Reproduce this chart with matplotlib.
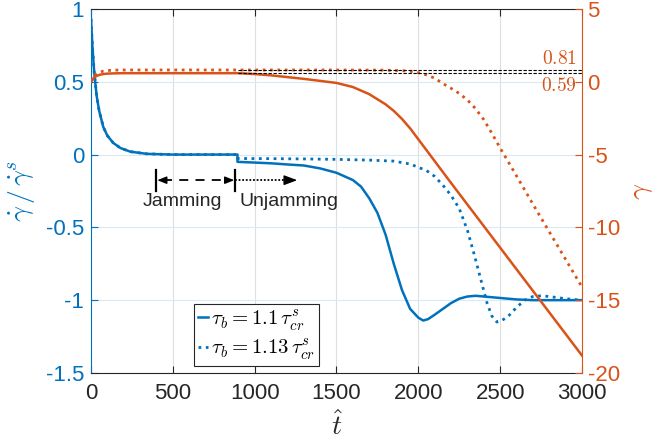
import matplotlib
matplotlib.use("Agg")
import matplotlib.pyplot as plt

plt.rcParams["font.family"] = ["Liberation Sans", "DejaVu Sans"]
plt.rcParams["mathtext.fontset"] = "cm"
plt.rcParams["axes.unicode_minus"] = False

BLUE = (0.0, 0.447, 0.741)
ORANGE = (0.85, 0.325, 0.098)
DARK = (0.15, 0.15, 0.15)

# shear rate (left axis), tau_b = 1.1 tau_cr^s
t_b1 = [0, 5, 10, 20, 35, 50, 75, 100, 136, 180, 240, 340, 500, 700, 895, 895,
        1000, 1100, 1200, 1300, 1400, 1500, 1600, 1650, 1700, 1750, 1800, 1850,
        1900, 1950, 2000, 2030, 2060, 2100, 2150, 2200, 2250, 2300, 2350, 2400,
        2500, 2600, 2700, 3000]
r_b1 = [0.93, 0.82, 0.72, 0.56, 0.40, 0.30, 0.19, 0.13, 0.08, 0.045, 0.02, 0.005,
        0.0, 0.0, 0.0, -0.05, -0.055, -0.06, -0.068, -0.075, -0.095, -0.125, -0.175,
        -0.22, -0.30, -0.40, -0.55, -0.75, -0.93, -1.06, -1.12, -1.14, -1.13, -1.10,
        -1.06, -1.02, -0.99, -0.975, -0.97, -0.975, -0.985, -0.995, -1.0, -1.0]

# shear rate (left axis), tau_b = 1.13 tau_cr^s
t_b2 = [0, 5, 10, 20, 35, 50, 75, 100, 136, 180, 240, 340, 500, 700, 895, 895,
        1100, 1300, 1500, 1700, 1850, 1950, 2050, 2100, 2150, 2200, 2250, 2300,
        2340, 2380, 2420, 2450, 2480, 2510, 2550, 2600, 2650, 2700, 2750, 2800,
        2900, 3000]
r_b2 = [0.93, 0.82, 0.72, 0.56, 0.40, 0.30, 0.19, 0.13, 0.08, 0.045, 0.02, 0.005,
        0.0, 0.0, 0.0, -0.027, -0.028, -0.03, -0.033, -0.038, -0.045, -0.065, -0.11,
        -0.15, -0.21, -0.28, -0.37, -0.52, -0.68, -0.85, -1.02, -1.11, -1.15, -1.14,
        -1.11, -1.05, -1.0, -0.975, -0.97, -0.975, -0.99, -1.0]

# strain gamma (right axis)
t_o1 = [0, 10, 25, 50, 75, 100, 150, 200, 300, 500, 700, 900, 1000, 1100, 1200,
        1300, 1400, 1500, 1600, 1700, 1800, 1850, 1900, 1950, 2000, 2050, 2100,
        2200, 3000]
g_o1 = [0.0, 0.18, 0.35, 0.47, 0.53, 0.56, 0.58, 0.59, 0.59, 0.59, 0.59, 0.59,
        0.53, 0.44, 0.32, 0.20, 0.06, -0.08, -0.36, -0.85, -1.55, -2.0, -2.55, -3.2,
        -3.95, -4.7, -5.45, -6.95, -18.8]

t_o2 = [0, 10, 25, 50, 75, 100, 150, 200, 300, 500, 900, 1200, 1500, 1800, 1900,
        1950, 2000, 2050, 2100, 2150, 2200, 2250, 2300, 2350, 2400, 2450, 2500,
        2550, 2620, 2700, 2800, 2900, 3000]
g_o2 = [0.0, 0.25, 0.48, 0.65, 0.73, 0.77, 0.80, 0.81, 0.81, 0.81, 0.81, 0.81,
        0.81, 0.80, 0.76, 0.72, 0.62, 0.47, 0.25, -0.12, -0.45, -0.80, -1.25, -1.85,
        -2.6, -3.55, -4.55, -5.5, -6.85, -8.4, -10.3, -12.2, -14.1]

ref_levels = [0.81, 0.59]
ref_labels = ["$0.81$", "$0.59$"]
ref_label_y = [1.58, -0.3]
ref_start = 900

left_ticks = [-1.5, -1, -0.5, 0, 0.5, 1]
left_ticklabels = ["-1.5", "-1", "-0.5", "0", "0.5", "1"]
right_ticks = [-20, -15, -10, -5, 0, 5]
x_ticks = [0, 500, 1000, 1500, 2000, 2500, 3000]

legend_labels = [r"$\tau_b = 1.1\,\tau_{cr}^s$", r"$\tau_b = 1.13\,\tau_{cr}^s$"]

# jamming / unjamming markers
t_jam_start = 400
t_jam_end = 880
t_unjam_end = 1260

fig = plt.figure(figsize=(6.57, 4.44), dpi=100)
ax = fig.add_axes([0.1385, 0.16, 0.7473, 0.8198])
ax2 = ax.twinx()

l1, = ax.plot(t_b1, r_b1, "-", color=BLUE, lw=1.8)
l2, = ax.plot(t_b2, r_b2, ":", color=BLUE, lw=2.0)
ax2.plot(t_o1, g_o1, "-", color=ORANGE, lw=1.8)
ax2.plot(t_o2, g_o2, ":", color=ORANGE, lw=2.0)

for lev in ref_levels:
    ax2.plot([ref_start, 3000], [lev, lev], "--", color="k", lw=0.8, dashes=(3, 1.5))
for lab, ly in zip(ref_labels, ref_label_y):
    ax2.text(2970, ly, lab, color=ORANGE, fontsize=14, ha="right", va="center")

ax.set_xlim(0, 3000)
ax.set_ylim(-1.5, 1)
ax2.set_ylim(-20, 5)

ax.set_xticks(x_ticks)
ax.set_xticklabels([str(v) for v in x_ticks])
ax.set_yticks(left_ticks)
ax.set_yticklabels(left_ticklabels)
ax2.set_yticks(right_ticks)
ax2.set_yticklabels([str(v) for v in right_ticks])

ax.tick_params(axis="x", direction="in", top=True, length=5, width=0.8,
               color=DARK, labelcolor=DARK, labelsize=16, pad=7)
ax.tick_params(axis="y", direction="in", length=5, width=0.8, color=BLUE,
               labelcolor=BLUE, labelsize=16, pad=5, right=False)
ax2.tick_params(axis="y", direction="in", length=5, width=0.8, color=ORANGE,
                labelcolor=ORANGE, labelsize=16, pad=4)

ax.grid(True, axis="x", color=(0.87, 0.87, 0.87), lw=0.8)
ax.grid(True, axis="y", color=(0.85, 0.917, 0.961), lw=0.8)
ax.set_axisbelow(True)

for s in ["top", "bottom"]:
    ax.spines[s].set_color(DARK)
    ax.spines[s].set_linewidth(0.8)
ax.spines["left"].set_color(BLUE)
ax.spines["left"].set_linewidth(0.8)
ax.spines["right"].set_visible(False)
for s in ["top", "bottom", "left"]:
    ax2.spines[s].set_visible(False)
ax2.spines["right"].set_color(ORANGE)
ax2.spines["right"].set_linewidth(0.8)

ax.set_ylabel(r"$\dot{\gamma}\,/\,\dot{\gamma}^s$", color=BLUE, fontsize=20)
ax.yaxis.set_label_coords(-0.11, 0.5)
ax2.set_ylabel(r"$\gamma$", color=ORANGE, fontsize=20)
ax2.yaxis.set_label_coords(1.095, 0.5)
ax.set_xlabel(r"$\hat{t}$", fontsize=20, color=DARK)
ax.xaxis.set_label_coords(0.5, -0.105)

# jamming annotation
ybar = (-0.103, -0.251)
yarr = -0.176
for tb in (t_jam_start, t_jam_end):
    ax.plot([tb, tb], ybar, color="k", lw=1.6)
ax.plot([t_jam_start + 40, t_jam_end - 40], [yarr, yarr], color="k", lw=1.3, dashes=(5, 4))
ax.plot([t_jam_end, t_unjam_end - 60], [yarr, yarr], color="k", lw=1.3, dashes=(1, 1))
head = dict(arrowstyle="-|>,head_length=0.55,head_width=0.22", color="k", lw=1.0,
            shrinkA=0, shrinkB=0)
ax.annotate("", xy=(t_jam_start + 5, yarr), xytext=(t_jam_start + 60, yarr), arrowprops=head)
ax.annotate("", xy=(t_jam_end - 5, yarr), xytext=(t_jam_end - 60, yarr), arrowprops=head)
head2 = dict(arrowstyle="-|>,head_length=0.8,head_width=0.3", color="k", lw=1.0,
             shrinkA=0, shrinkB=0)
ax.annotate("", xy=(t_unjam_end, yarr), xytext=(t_unjam_end - 70, yarr), arrowprops=head2)
ax.text(315, -0.325, "Jamming", fontsize=14, color=DARK, ha="left", va="center")
ax.text(910, -0.325, "Unjamming", fontsize=14, color=DARK, ha="left", va="center")

leg = ax2.legend([l1, l2], legend_labels, loc="lower left", bbox_to_anchor=(0.21, 0.019),
                 borderaxespad=0, fontsize=15, handlelength=0.45, handletextpad=0.15,
                 borderpad=0.2, labelspacing=0.2, fancybox=False, framealpha=1,
                 edgecolor=DARK)
leg.get_frame().set_linewidth(0.8)

fig.savefig("out.png", dpi=100)
